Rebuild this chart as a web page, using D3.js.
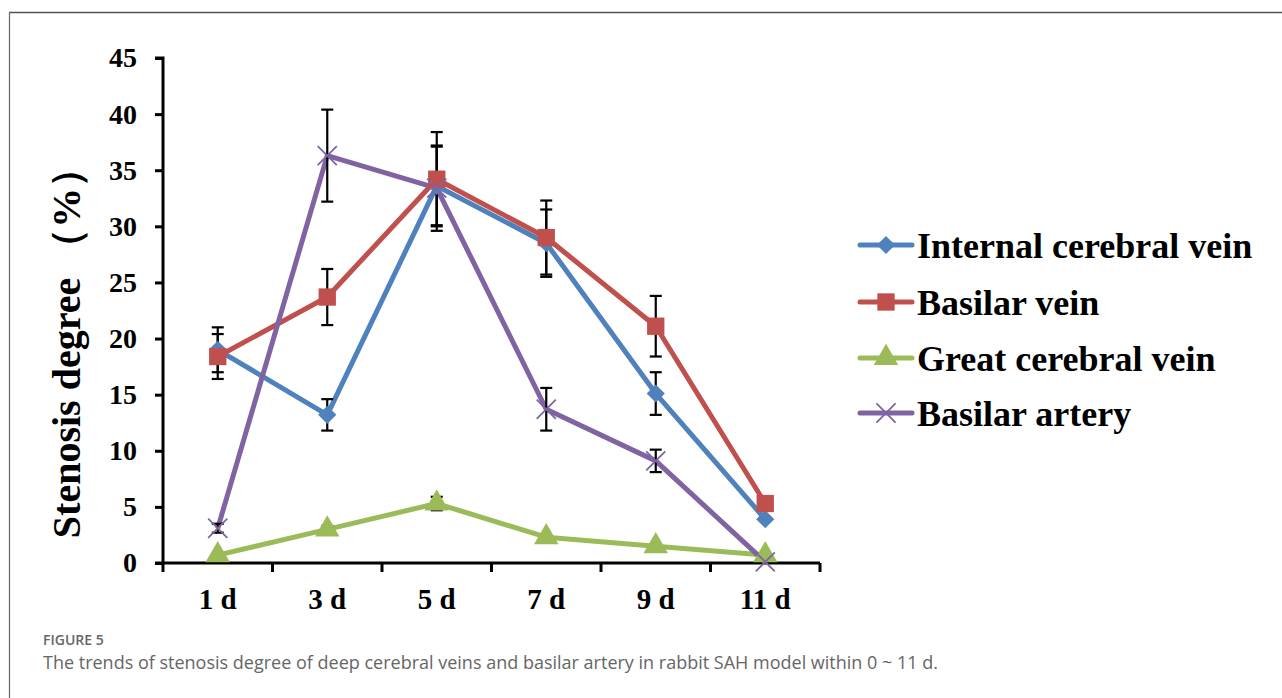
<!DOCTYPE html>
<html>
<head>
<meta charset="utf-8">
<script src="https://cdn.jsdelivr.net/npm/d3@7"></script>
<style>
  body { margin: 0; background: #fff; }
  svg { display: block; }
</style>
</head>
<body>
<div id="chart"></div>
<script>
  // Days on the x axis
  const days = ["1 d", "3 d", "5 d", "7 d", "9 d", "11 d"];
  const yTicks = [0, 5, 10, 15, 20, 25, 30, 35, 40, 45];

  // Series names and values (stenosis %), with error bar half-lengths
  const seriesNames = ["Internal cerebral vein", "Basilar vein", "Great cerebral vein", "Basilar artery"];
  const internalCerebral = [19.0, 13.2, 33.6, 28.5, 15.1, 3.9];
  const internalCerebralErr = [2.0, 1.4, 3.5, 3.0, 1.9, 0];
  const basilarVein = [18.4, 23.7, 34.2, 29.0, 21.1, 5.3];
  const basilarVeinErr = [2.0, 2.5, 4.2, 3.3, 2.7, 0];
  const greatCerebral = [0.7, 3.0, 5.3, 2.3, 1.5, 0.7];
  const greatCerebralErr = [0, 0.3, 0.6, 0, 0, 0];
  const basilarArtery = [3.1, 36.3, 33.4, 13.7, 9.1, 0.1];
  const basilarArteryErr = [0.4, 4.1, 3.8, 1.9, 1.0, 0];

  const colors = ["#4F81BD", "#C0504D", "#9BBB59", "#8064A2"];
  const symbols = [d3.symbolDiamond2, d3.symbolSquare, d3.symbolTriangle, d3.symbolX];

  const series = [
    { name: seriesNames[0], values: internalCerebral, err: internalCerebralErr },
    { name: seriesNames[1], values: basilarVein, err: basilarVeinErr },
    { name: seriesNames[2], values: greatCerebral, err: greatCerebralErr },
    { name: seriesNames[3], values: basilarArtery, err: basilarArteryErr }
  ];

  const width = 1282;
  const height = 698;
  const margin = { top: 58, left: 163, right: 462, bottom: 135 };
  const plotW = width - margin.left - margin.right;
  const plotH = height - margin.top - margin.bottom;
  const serif = "'Liberation Serif', 'Times New Roman', serif";

  const svg = d3.select("#chart")
    .append("svg")
    .attr("width", width)
    .attr("height", height);

  // Frame lines (top and left only)
  svg.append("line")
    .attr("x1", 9).attr("y1", 12.5).attr("x2", width).attr("y2", 12.5)
    .attr("stroke", "#555").attr("stroke-width", 1.5);
  svg.append("line")
    .attr("x1", 9.5).attr("y1", 12).attr("x2", 9.5).attr("y2", height)
    .attr("stroke", "#666").attr("stroke-width", 1.2);

  const g = svg.append("g")
    .attr("transform", `translate(${margin.left},${margin.top})`);

  const x = d3.scaleBand()
    .domain(days)
    .range([0, plotW]);

  const y = d3.scaleLinear()
    .domain([0, 45])
    .range([plotH, 0]);

  // Y axis
  g.append("g")
    .call(d3.axisLeft(y).tickValues(yTicks).tickSize(8).tickPadding(18))
    .call(a => a.select(".domain").attr("stroke", "#000").attr("stroke-width", 3)
      .attr("d", `M-8,${plotH}H0V0H-8`))
    .call(a => a.selectAll(".tick line").attr("stroke", "#000").attr("stroke-width", 3))
    .call(a => a.selectAll(".tick text")
      .attr("font-family", serif)
      .attr("font-weight", "bold")
      .attr("font-size", "28px")
      .attr("fill", "#000"));

  // X axis, ticks between categories
  const xAxis = g.append("g")
    .attr("transform", `translate(0,${plotH})`);
  xAxis.append("line")
    .attr("x1", 0).attr("x2", plotW)
    .attr("stroke", "#000").attr("stroke-width", 3);
  xAxis.selectAll(".xt")
    .data(days.concat(["end"]))
    .enter()
    .append("line")
    .attr("class", "xt")
    .attr("x1", (d, i) => i * x.step())
    .attr("x2", (d, i) => i * x.step())
    .attr("y1", 0).attr("y2", 9)
    .attr("stroke", "#000").attr("stroke-width", 3);
  xAxis.selectAll(".xl")
    .data(days)
    .enter()
    .append("text")
    .attr("class", "xl")
    .attr("x", d => x(d) + x.bandwidth() / 2)
    .attr("y", 46)
    .attr("text-anchor", "middle")
    .attr("font-family", serif)
    .attr("font-weight", "bold")
    .attr("font-size", "29px")
    .text(d => d);

  // Y axis title
  svg.append("text")
    .attr("transform", `translate(80,343) rotate(-90)`)
    .attr("text-anchor", "middle")
    .attr("font-family", serif)
    .attr("font-weight", "bold")
    .attr("font-size", "40px")
    .text("Stenosis degree （%）");

  const cx = i => x(days[i]) + x.bandwidth() / 2;

  const line = d3.line()
    .x((d, i) => cx(i))
    .y(d => y(d));

  // Lines
  series.forEach((s, k) => {
    g.append("path")
      .datum(s.values)
      .attr("fill", "none")
      .attr("stroke", colors[k])
      .attr("stroke-width", 5)
      .attr("stroke-linejoin", "round")
      .attr("d", line);
  });

  // Error bars
  series.forEach((s, k) => {
    s.values.forEach((v, i) => {
      const e = s.err[i];
      if (!e) return;
      const px = cx(i);
      const eg = g.append("g").attr("stroke", "#000").attr("stroke-width", 2.2);
      eg.append("line").attr("x1", px).attr("x2", px).attr("y1", y(v + e)).attr("y2", y(v - e));
      eg.append("line").attr("x1", px - 6).attr("x2", px + 6).attr("y1", y(v + e)).attr("y2", y(v + e));
      eg.append("line").attr("x1", px - 6).attr("x2", px + 6).attr("y1", y(v - e)).attr("y2", y(v - e));
    });
  });

  // Markers
  const markerSize = [210, 300, 260, 240];
  function drawMarker(sel, k, px, py) {
    const sym = d3.symbol().type(symbols[k]).size(markerSize[k]);
    const p = sel.append("path")
      .attr("d", sym())
      .attr("transform", `translate(${px},${py})`);
    if (k === 3) {
      p.attr("fill", "none").attr("stroke", colors[k]).attr("stroke-width", 1.8);
    } else {
      p.attr("fill", colors[k]).attr("stroke", "none");
    }
  }
  series.forEach((s, k) => {
    s.values.forEach((v, i) => drawMarker(g, k, cx(i), y(v)));
  });

  // Legend
  const legend = svg.append("g");
  const legendY = [245, 302, 358, 413];
  series.forEach((s, k) => {
    const ly = legendY[k];
    legend.append("line")
      .attr("x1", 860).attr("x2", 912)
      .attr("y1", ly).attr("y2", ly)
      .attr("stroke", colors[k]).attr("stroke-width", 5)
      .attr("stroke-linecap", "round");
    drawMarker(legend, k, 886, ly);
    legend.append("text")
      .attr("x", 917)
      .attr("y", ly)
      .attr("dy", "0.35em")
      .attr("font-family", serif)
      .attr("font-weight", "bold")
      .attr("font-size", "36px")
      .text(s.name);
  });

  // Caption
  svg.append("text")
    .attr("x", 43).attr("y", 645)
    .attr("font-family", "'Open Sans', sans-serif")
    .attr("font-weight", "600")
    .attr("font-size", "14px")
    .attr("fill", "#666")
    .text("FIGURE 5");
  svg.append("text")
    .attr("x", 43).attr("y", 669)
    .attr("font-family", "'Open Sans', sans-serif")
    .attr("font-size", "18px")
    .attr("fill", "#666")
    .text("The trends of stenosis degree of deep cerebral veins and basilar artery in rabbit SAH model within 0 ~ 11 d.");
</script>
</body>
</html>
